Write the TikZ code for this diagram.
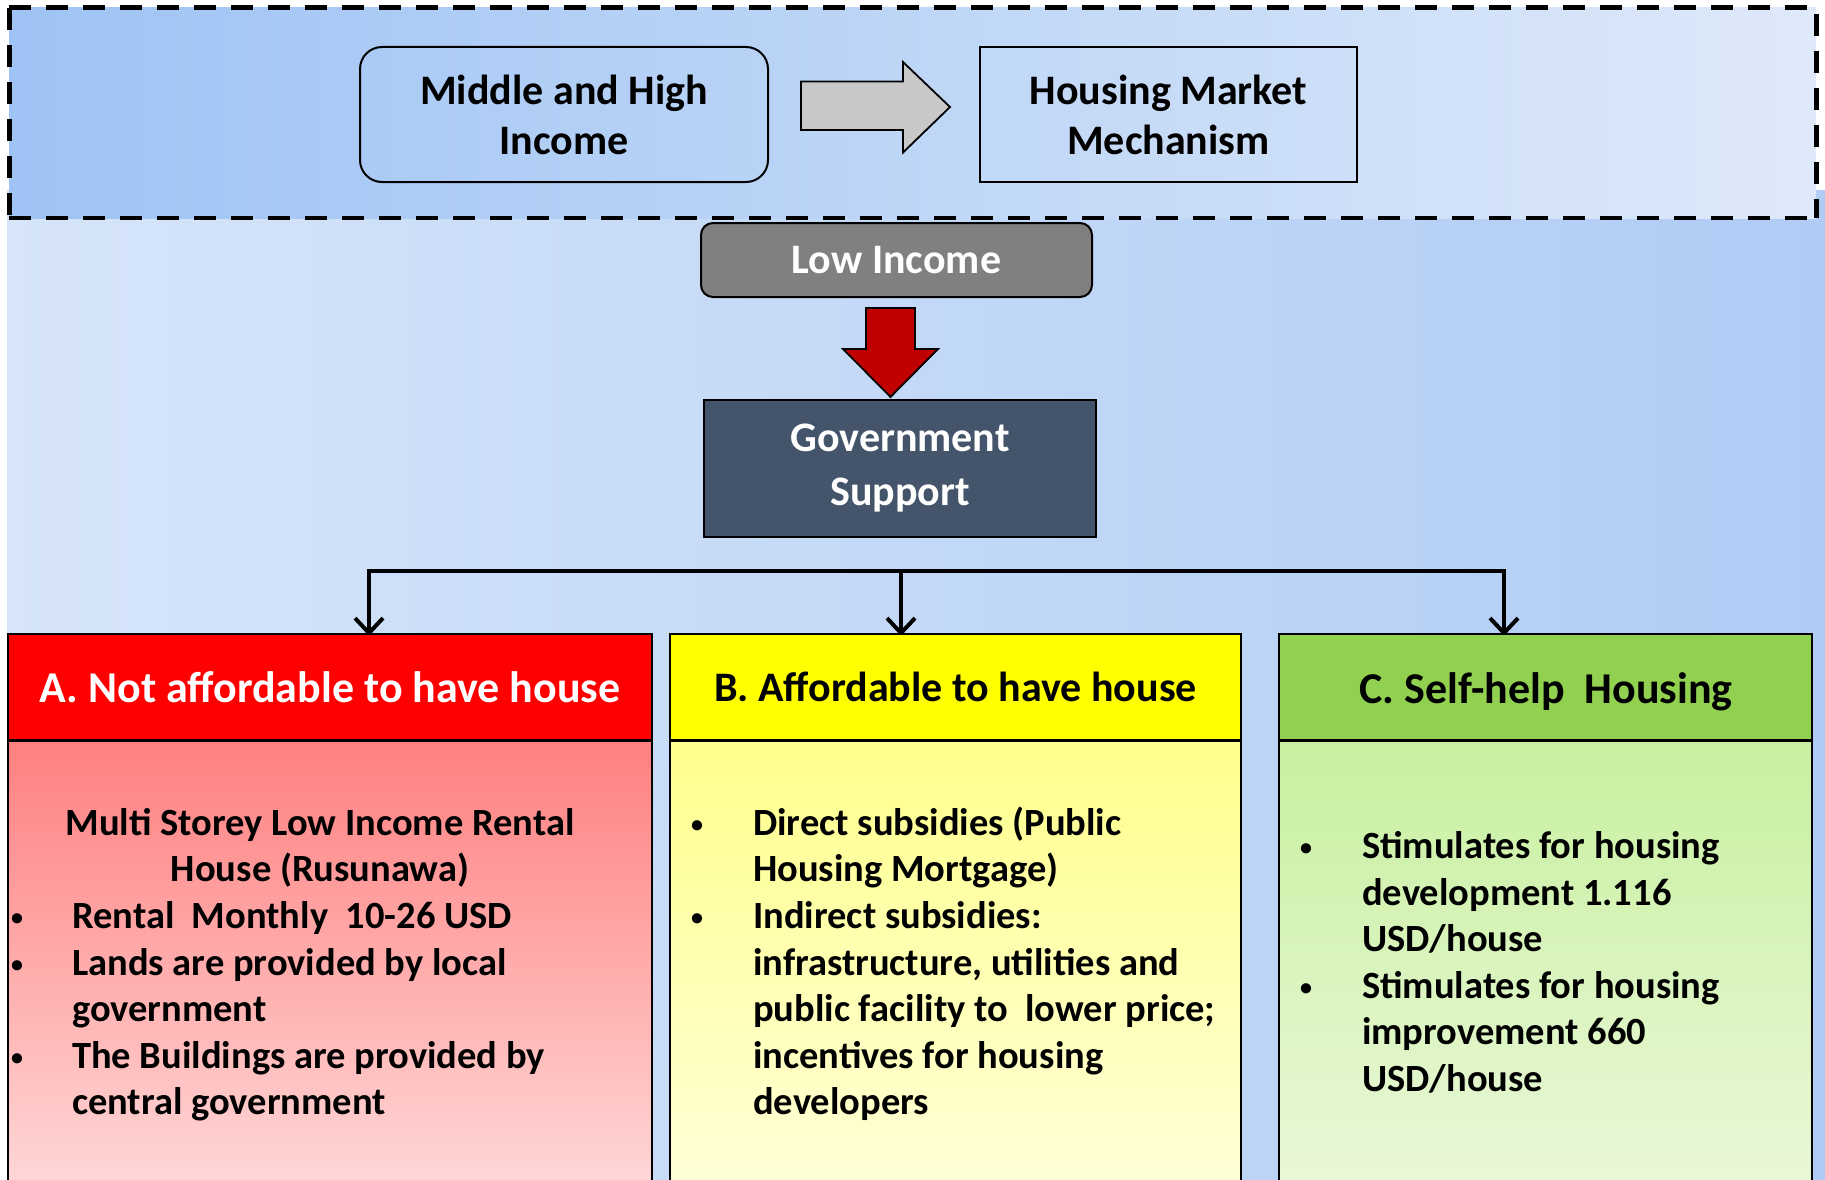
\documentclass[tikz,border=0pt]{standalone}
\usepackage{fontspec}
\setmainfont{Carlito}
\usetikzlibrary{arrows.meta}
\definecolor{govc}{HTML}{44546A}
\definecolor{redhead}{HTML}{FF0000}
\definecolor{yelhead}{HTML}{FFFF00}
\definecolor{grnhead}{HTML}{92D050}
\definecolor{darkred}{HTML}{C00000}
\newcommand\smallbul{\raisebox{3pt}{\fontsize{24}{24}\selectfont\textbullet}}
\begin{document}
\begin{tikzpicture}[x=1pt,y=-1pt,
  topbox/.style={draw, line width=2pt, minimum height=135pt, align=center, inner sep=0pt,
    font=\fontsize{42}{50}\selectfont\bfseries},
  darkbox/.style={draw, line width=2pt, align=center, inner sep=0pt, text=white,
    font=\fontsize{42}{54}\selectfont\bfseries},
  head/.style={draw, line width=1.8pt, minimum height=106pt, inner sep=0pt,
    font=\fontsize{44}{52}\selectfont\bfseries},
  body/.style={draw, line width=1.8pt, minimum height=460pt, inner sep=0pt, anchor=north},
  txt/.style={inner sep=0pt, font=\fontsize{38.5}{46}\selectfont\bfseries},
  conn/.style={line width=4pt},
  connarrow/.style={line width=4pt, -{Straight Barb[length=15pt,width=28pt,line width=4pt]}},
  blockarrow/.style={draw, line width=1.8pt, line join=miter}
]
\clip (0,0) rectangle (1825,1180);
% background
\shade[left color={rgb,255:red,214;green,229;blue,249}, right color={rgb,255:red,176;green,204;blue,245}]
  (7,190) rectangle (1825,1180);
\shade[left color={rgb,255:red,158;green,195;blue,244}, right color={rgb,255:red,222;green,233;blue,249}]
  (9,8) rectangle (1816,218);
\draw[line width=5pt, dash pattern=on 22pt off 15pt] (9,8) -- (1816,8) -- (1816,218);
\draw[line width=5pt, dash pattern=on 22pt off 15pt] (9,8) -- (9,218);
\draw[line width=3.5pt, dash pattern=on 22pt off 15pt] (9,218) -- (1816,218);

% top row
\node[topbox, rounded corners=22pt, minimum width=408pt] (mid) at (564,114.5) {Middle and High\\Income};
\node[topbox, minimum width=377pt] (hmm) at (1168.5,114.5) {Housing Market\\Mechanism};
\path[blockarrow, fill={rgb,255:red,200;green,200;blue,200}]
  (801,81.5) -- (903,81.5) -- (903,62) -- (950,107) -- (903,152.5) -- (903,130) -- (801,130) -- cycle;

% low income and government
\node[darkbox, fill={rgb,255:red,128;green,128;blue,128}, rounded corners=12pt,
  minimum width=391pt, minimum height=74pt] (low) at (896.5,260) {Low Income};
\node[darkbox, fill=govc, minimum width=392pt, minimum height=137pt] (gov) at (900,468) {Government\\Support};
\path[blockarrow, fill=darkred]
  (866,308) -- (915,308) -- (915,349) -- (938,349) -- (890.5,397) -- (843,349) -- (866,349) -- cycle;

% connectors
\coordinate (ha) at (369,571);
\coordinate (hb) at (901,571);
\coordinate (hc) at (1504,571);
\coordinate (ta) at (369,636);
\coordinate (tb) at (901,636);
\coordinate (tc) at (1504,636);
\draw[conn, line cap=rect] (ha) -- (hc);
\draw[connarrow] (ha) -- (ta);
\draw[connarrow] (hb) -- (tb);
\draw[connarrow] (hc) -- (tc);

% column bodies
\node[body, minimum width=644pt, top color={rgb,255:red,255;green,128;blue,128}, bottom color={rgb,255:red,255;green,218;blue,218}] (abody) at (330,740) {};
\node[body, minimum width=571pt, top color={rgb,255:red,255;green,255;blue,140}, bottom color={rgb,255:red,255;green,255;blue,218}] (bbody) at (955.5,740) {};
\node[body, minimum width=533pt, top color={rgb,255:red,200;green,240;blue,160}, bottom color={rgb,255:red,234;green,248;blue,218}] (cbody) at (1545.5,740) {};

% headers
\node[head, fill=redhead, text=white, minimum width=644pt] (ahead) at (330,687) {A. Not affordable to have house};
\node[head, fill=yelhead, minimum width=571pt, font=\fontsize{42}{52}\selectfont\bfseries] (bhead) at (955.5,687) {B. Affordable to have house};
\node[head, fill=grnhead, minimum width=533pt] (chead) at (1545.5,687) {};
\node[inner sep=0pt, font=\fontsize{44}{52}\selectfont\bfseries, anchor=base] (cheadtext) at (1546,703) {C. Self-help\ \ Housing};

% column A text
\node[txt, anchor=base] (a1) at (320,835) {Multi Storey Low Income Rental};
\node[txt, anchor=base] (a2) at (320,881) {House (Rusunawa)};
\node[txt, anchor=base] (a3d) at (17,928) {\smallbul};
\node[txt, anchor=base west] (a3) at (72,928) {Rental\ \ Monthly\ \ 10-26 USD};
\node[txt, anchor=base] (a4d) at (17,975) {\smallbul};
\node[txt, anchor=base west] (a4) at (72,975) {Lands are provided by local};
\node[txt, anchor=base west] (a5) at (72,1021) {government};
\node[txt, anchor=base] (a6d) at (17,1068) {\smallbul};
\node[txt, anchor=base west] (a6) at (72,1068) {The Buildings are provided by};
\node[txt, anchor=base west] (a7) at (72,1114) {central government};

% column B text
\node[txt, anchor=base] (b1d) at (697,835) {\smallbul};
\node[txt, anchor=base west] (b1) at (753,835) {Direct subsidies (Public};
\node[txt, anchor=base west] (b2) at (753,881) {Housing Mortgage)};
\node[txt, anchor=base] (b3d) at (697,928) {\smallbul};
\node[txt, anchor=base west] (b3) at (753,928) {Indirect subsidies:};
\node[txt, anchor=base west] (b4) at (753,975) {infrastructure, utilities and};
\node[txt, anchor=base west] (b5) at (753,1021) {public facility to\ \ lower price;};
\node[txt, anchor=base west] (b6) at (753,1068) {incentives for housing};
\node[txt, anchor=base west] (b7) at (753,1114) {developers};

% column C text
\node[txt, anchor=base] (c1d) at (1306,858) {\smallbul};
\node[txt, anchor=base west] (c1) at (1362,858) {Stimulates for housing};
\node[txt, anchor=base west] (c2) at (1362,905) {development 1.116};
\node[txt, anchor=base west] (c3) at (1362,951) {USD/house};
\node[txt, anchor=base] (c4d) at (1306,998) {\smallbul};
\node[txt, anchor=base west] (c4) at (1362,998) {Stimulates for housing};
\node[txt, anchor=base west] (c5) at (1362,1044) {improvement 660};
\node[txt, anchor=base west] (c6) at (1362,1091) {USD/house};
\end{tikzpicture}
\end{document}
